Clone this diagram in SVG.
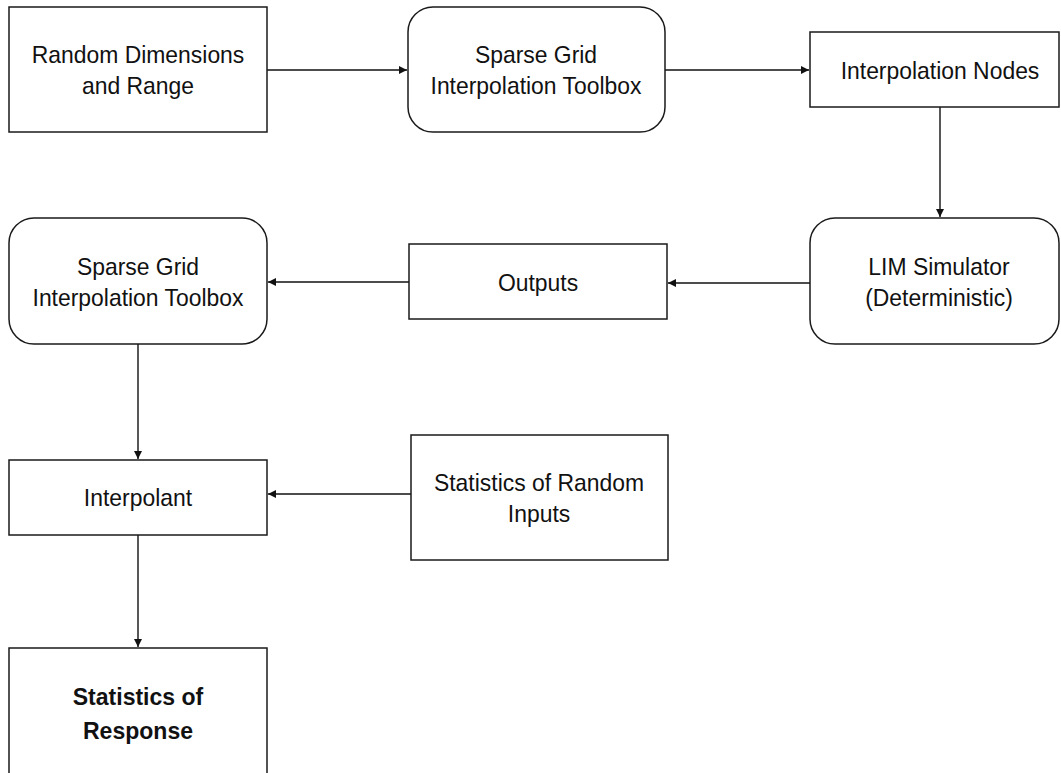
<svg xmlns="http://www.w3.org/2000/svg" width="1061" height="773" viewBox="0 0 1061 773">
<defs>
<style>
.box{fill:#fff;stroke:#1a1a1a;stroke-width:1.5}
.t{font-family:"Liberation Sans",Arial,sans-serif;font-size:24px;fill:#111;text-anchor:middle}
.b{font-weight:bold}
.c{fill:none;stroke:#111;stroke-width:1.4}
</style>
<marker id="ah" viewBox="0 0 10 10" refX="10" refY="5" markerWidth="8" markerHeight="8" markerUnits="userSpaceOnUse" orient="auto">
<path d="M0,0 L10,5 L0,10 z" fill="#111"/>
</marker>
</defs>
<rect width="1061" height="773" fill="#fff"/>
<g id="connectors">
<line class="c" x1="267" y1="70" x2="407" y2="70" marker-end="url(#ah)"/>
<line class="c" x1="665" y1="70" x2="809" y2="70" marker-end="url(#ah)"/>
<line class="c" x1="940" y1="107" x2="940" y2="217" marker-end="url(#ah)"/>
<line class="c" x1="810" y1="283" x2="668" y2="283" marker-end="url(#ah)"/>
<line class="c" x1="409" y1="282" x2="268" y2="282" marker-end="url(#ah)"/>
<line class="c" x1="138" y1="344" x2="138" y2="459" marker-end="url(#ah)"/>
<line class="c" x1="411" y1="494" x2="268" y2="494" marker-end="url(#ah)"/>
<line class="c" x1="138" y1="535" x2="138" y2="647" marker-end="url(#ah)"/>
</g>
<g id="random-dimensions">
<rect class="box" x="9" y="7" width="258" height="125"/>
<g transform="translate(138 0) scale(0.955 1)">
<text class="t" x="0" y="63">Random Dimensions</text>
<text class="t" x="0" y="94">and Range</text>
</g>
</g>
<g id="sparse-grid-1">
<rect class="box" x="408" y="7" width="257" height="125" rx="25"/>
<g transform="translate(536 0) scale(0.955 1)">
<text class="t" x="0" y="63">Sparse Grid</text>
<text class="t" x="0" y="94">Interpolation Toolbox</text>
</g>
</g>
<g id="interpolation-nodes">
<rect class="box" x="810" y="32" width="249" height="75"/>
<g transform="translate(940 0) scale(0.955 1)">
<text class="t" x="0" y="79">Interpolation Nodes</text>
</g>
</g>
<g id="lim-simulator">
<rect class="box" x="810" y="218" width="249" height="126" rx="25"/>
<g transform="translate(939 0) scale(0.955 1)">
<text class="t" x="0" y="275">LIM Simulator</text>
<text class="t" x="0" y="306">(Deterministic)</text>
</g>
</g>
<g id="outputs">
<rect class="box" x="409" y="244" width="258" height="75"/>
<g transform="translate(538 0) scale(0.955 1)">
<text class="t" x="0" y="291">Outputs</text>
</g>
</g>
<g id="sparse-grid-2">
<rect class="box" x="9" y="218" width="258" height="126" rx="25"/>
<g transform="translate(138 0) scale(0.955 1)">
<text class="t" x="0" y="275">Sparse Grid</text>
<text class="t" x="0" y="306">Interpolation Toolbox</text>
</g>
</g>
<g id="interpolant">
<rect class="box" x="9" y="460" width="258" height="75"/>
<g transform="translate(138 0) scale(0.955 1)">
<text class="t" x="0" y="506">Interpolant</text>
</g>
</g>
<g id="statistics-random-inputs">
<rect class="box" x="411" y="435" width="257" height="125"/>
<g transform="translate(539 0) scale(0.955 1)">
<text class="t" x="0" y="491">Statistics of Random</text>
<text class="t" x="0" y="522">Inputs</text>
</g>
</g>
<g id="statistics-response">
<rect class="box" x="9" y="648" width="258" height="160"/>
<g transform="translate(138 0) scale(0.96 1)">
<text class="t b" x="0" y="705">Statistics of</text>
<text class="t b" x="0" y="739">Response</text>
</g>
</g>
</svg>
